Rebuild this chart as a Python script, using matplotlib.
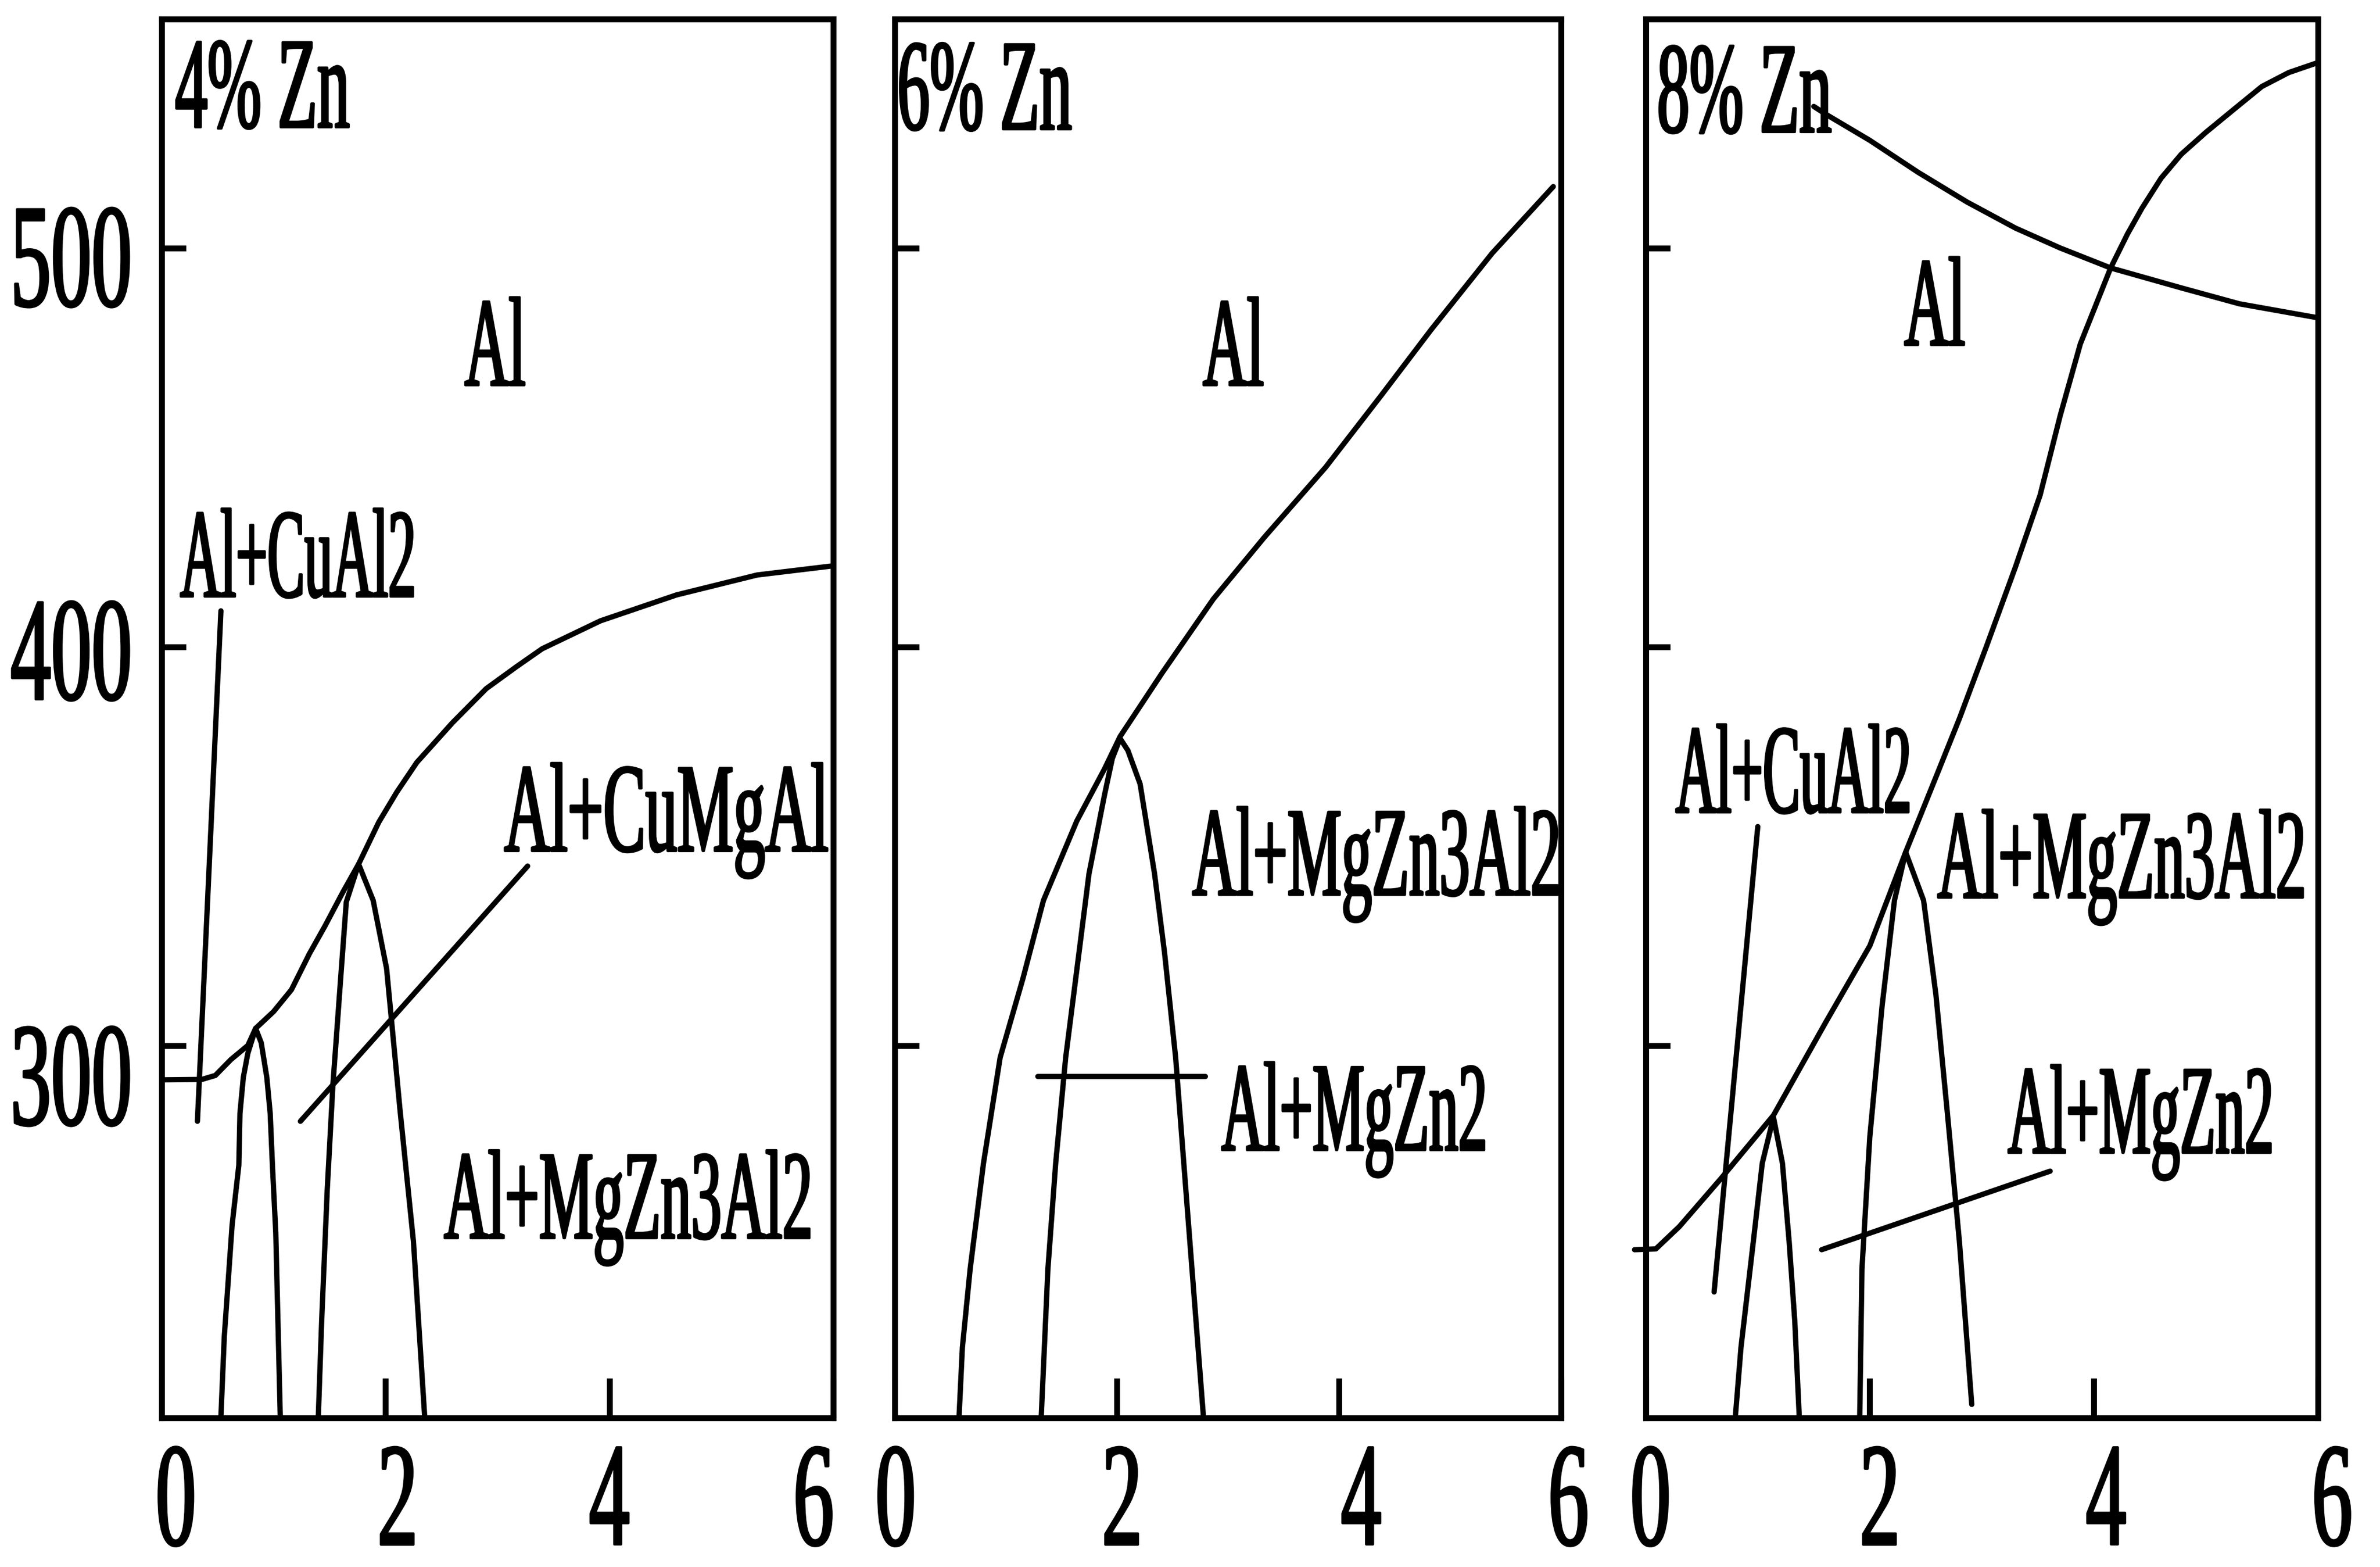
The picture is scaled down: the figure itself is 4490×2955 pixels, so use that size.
import numpy as np
import matplotlib
matplotlib.use('Agg')
from matplotlib import pyplot as plt
from matplotlib import patheffects
from matplotlib.transforms import Affine2D, ScaledTranslation

# ---- 4% Zn panel ----
p1_curve_x = [0.00, 0.36, 0.48, 0.62, 0.77, 0.84, 1.00, 1.16, 1.32, 1.46, 1.62, 1.76,
              1.94, 2.10, 2.28, 2.60, 2.90, 3.17, 3.40, 3.92, 4.60, 5.32, 6.00]
p1_curve_y = [291.4, 291.5, 292.5, 296.5, 300.0, 304.3, 308.5, 314.0, 323.0, 330.0, 338.5, 345.5,
              356.0, 363.5, 371.0, 381.0, 389.5, 395.0, 399.5, 406.5, 413.0, 418.0, 420.3]
p1_dome1_x = [0.53, 0.56, 0.63, 0.69, 0.70, 0.73, 0.77, 0.84, 0.89, 0.94, 0.97, 0.99, 1.02, 1.06]
p1_dome1_y = [207, 227, 255, 270, 283, 292, 298, 304.3, 300.7, 292, 283, 270, 253, 207]
p1_dome2_x = [1.40, 1.43, 1.48, 1.53, 1.60, 1.65, 1.76, 1.89, 2.01, 2.13, 2.25, 2.35]
p1_dome2_y = [207, 231, 264, 290, 317, 336, 345.5, 336.4, 319.3, 283.8, 250.8, 207]
p1_ptr_cual2_x = [0.53, 0.32]
p1_ptr_cual2_y = [409, 281]
p1_ptr_cumgal_x = [3.27, 1.24]
p1_ptr_cumgal_y = [345, 281]

# ---- 6% Zn panel ----
p2_curve_x = [0.58, 0.61, 0.68, 0.80, 0.95, 1.155, 1.34, 1.64, 1.89, 2.03, 2.41, 2.87,
              3.33, 3.88, 4.38, 4.83, 5.38, 5.93]
p2_curve_y = [207, 224.3, 244, 270.5, 297, 316.8, 336.4, 356.3, 369.4, 377.5, 393.5, 412.0,
              427.5, 445.0, 463, 479.5, 498.7, 515.4]
p2_dome_x = [1.32, 1.38, 1.45, 1.54, 1.66, 1.75, 1.89, 1.96, 2.03, 2.10, 2.21, 2.34, 2.43,
             2.53, 2.64, 2.78]
p2_dome_y = [207, 244, 270.5, 297, 323.3, 343.1, 362.9, 372, 377, 374, 365.6, 343.1, 323.3,
             297, 257.3, 207]
p2_ptr_mgzn2_x = [1.29, 2.80]
p2_ptr_mgzn2_y = [292.3, 292.3]

# ---- 8% Zn panel ----
p3_solvus_x = [1.50, 1.61, 2.00, 2.43, 2.87, 3.30, 3.70, 4.15, 4.78, 5.30, 6.00]
p3_solvus_y = [535.5, 533.5, 527, 519, 511.5, 505, 500, 495, 490, 486, 482.5]
p3_curve_x = [-0.10, 0.09, 0.30, 0.67, 1.14, 1.61, 2.00, 2.32, 2.60, 2.80, 3.04, 3.30, 3.52,
              3.70, 3.88, 4.15, 4.30, 4.43, 4.60, 4.78, 5.00, 5.26, 5.50, 5.74, 6.00]
p3_curve_y = [248.8, 249.0, 254.6, 266.6, 282.5, 306, 325, 348.5, 368, 382, 400, 420, 438,
              458, 476, 495, 503.5, 510, 517.5, 523.5, 529, 535, 540.5, 544, 546.5]
p3_dome1_x = [0.80, 0.85, 0.96, 1.04, 1.14, 1.22, 1.28, 1.33, 1.37]
p3_dome1_y = [207, 224.3, 250.8, 270.5, 282, 270.5, 250.8, 231, 207]
p3_dome2_x = [1.91, 1.93, 2.00, 2.11, 2.22, 2.32, 2.48, 2.59, 2.69, 2.80, 2.91]
p3_dome2_y = [207, 244, 277.1, 310, 336.4, 348.5, 336.4, 312.8, 283.8, 250.8, 210]
p3_ptr_cual2_x = [1.00, 0.61]
p3_ptr_cual2_y = [354.9, 238.2]
p3_ptr_mgzn2_x = [3.61, 1.57]
p3_ptr_mgzn2_y = [268.5, 248.8]

x_ticks = [0, 2, 4, 6]
x_labels = ['0', '2', '4', '6']
y_ticks = [300, 400, 500]
y_labels = ['300', '400', '500']


class Tall(patheffects.AbstractPathEffect):
    """Stretch glyphs vertically (and thicken them) to look like the
    condensed, heavy face of the scanned figure."""
    def __init__(self, sy, anchor='baseline', lw=3.2):
        super().__init__()
        self.sy = sy
        self.anchor = anchor
        self.lw = lw

    def draw_path(self, renderer, gc, tpath, affine, rgbFace=None):
        ext = tpath.get_extents()
        if self.anchor == 'top':
            y0 = ext.y1
        elif self.anchor == 'center':
            y0 = (ext.y0 + ext.y1) / 2
        else:
            y0 = 0
        st = Affine2D().translate(0, -y0).scale(1, self.sy).translate(0, y0)
        gc0 = renderer.new_gc()
        gc0.copy_properties(gc)
        gc0.set_linewidth(self.lw)
        gc0.set_foreground(rgbFace)
        gc0.set_joinstyle('round')
        renderer.draw_path(gc0, tpath, st + affine, rgbFace)
        gc0.restore()


def label(ax, x, y, s, size, squeeze):
    # squeeze < 1: how narrow the face is compared with a normal serif face
    ax.text(x, y, s, fontsize=size * squeeze, ha='center', va='baseline',
            path_effects=[Tall(1 / squeeze)])


plt.rcParams['font.family'] = ['Liberation Serif', 'DejaVu Serif']

fig = plt.figure(figsize=(44.9, 29.55), dpi=100)
boxes = [[0.0679, 0.0951, 0.2822, 0.8927],
         [0.3759, 0.0951, 0.2800, 0.8927],
         [0.6915, 0.0951, 0.2824, 0.8927]]
axes = [fig.add_axes(b) for b in boxes]

# small shifts (px) of tick labels as placed in the original
x_label_shift = [[27, 23, 0, -37], [2, 10, 42, 14], [9, 19, 23, 27]]
y_label_shift = [-55, -5, -15]

LW = 7.2
line_kw = dict(color='k', lw=LW, solid_capstyle='round', solid_joinstyle='round')
TICK_SQ = 0.55

for i, ax in enumerate(axes):
    ax.set_xlim(0, 6)
    ax.set_ylim(206.6, 557.4)
    for s in ax.spines.values():
        s.set_linewidth(8)
    ax.set_xticks(x_ticks, x_labels)
    ax.set_yticks(y_ticks, y_labels)
    ax.tick_params(axis='x', direction='in', length=54, width=8, pad=36,
                   labelsize=200 * TICK_SQ, top=False)
    ax.tick_params(axis='y', direction='in', length=33, width=8, pad=40,
                   labelsize=200 * TICK_SQ, right=False, labelleft=(i == 0))
    for lab, dx in zip(ax.get_xticklabels(), x_label_shift[i]):
        lab.set_path_effects([Tall(1 / TICK_SQ, 'top')])
        lab.set_transform(lab.get_transform() + ScaledTranslation(dx / 100, 0, fig.dpi_scale_trans))
    for lab, dy in zip(ax.get_yticklabels(), y_label_shift):
        lab.set_path_effects([Tall(1 / TICK_SQ, 'center')])
        lab.set_transform(lab.get_transform() + ScaledTranslation(0, dy / 100, fig.dpi_scale_trans))

# 4% Zn
ax = axes[0]
ax.plot(p1_curve_x, p1_curve_y, **line_kw)
ax.plot(p1_dome1_x, p1_dome1_y, **line_kw)
ax.plot(p1_dome2_x, p1_dome2_y, **line_kw)
ax.plot(p1_ptr_cual2_x, p1_ptr_cual2_y, **line_kw)
ax.plot(p1_ptr_cumgal_x, p1_ptr_cumgal_y, **line_kw)
label(ax, 0.90, 530.3, '4% Zn', 176, 0.5)
label(ax, 2.98, 465.6, 'Al', 172, 0.48)
label(ax, 1.22, 412.6, 'Al+CuAl2', 172, 0.44)
label(ax, 4.51, 348.8, 'Al+CuMgAl', 172, 0.5)
label(ax, 4.17, 251.7, 'Al+MgZn3Al2', 172, 0.48)

# 6% Zn
ax = axes[1]
ax.plot(p2_curve_x, p2_curve_y, **line_kw)
ax.plot(p2_dome_x, p2_dome_y, **line_kw)
ax.plot(p2_ptr_mgzn2_x, p2_ptr_mgzn2_y, **line_kw)
label(ax, 0.81, 529.8, '6% Zn', 176, 0.5)
label(ax, 3.05, 465.6, 'Al', 172, 0.48)
label(ax, 4.34, 337.8, 'Al+MgZn3Al2', 172, 0.48)
label(ax, 4.14, 273.8, 'Al+MgZn2', 172, 0.46)

# 8% Zn
ax = axes[2]
ax.plot(p3_solvus_x, p3_solvus_y, **line_kw)
ax.plot(p3_curve_x, p3_curve_y, clip_on=False, **line_kw)
ax.plot(p3_dome1_x, p3_dome1_y, **line_kw)
ax.plot(p3_dome2_x, p3_dome2_y, **line_kw)
ax.plot(p3_ptr_cual2_x, p3_ptr_cual2_y, **line_kw)
ax.plot(p3_ptr_mgzn2_x, p3_ptr_mgzn2_y, **line_kw)
label(ax, 0.88, 529.1, '8% Zn', 176, 0.5)
label(ax, 2.58, 475.7, 'Al', 172, 0.48)
label(ax, 1.32, 358.5, 'Al+CuAl2', 172, 0.44)
label(ax, 4.25, 337.1, 'Al+MgZn3Al2', 172, 0.48)
label(ax, 4.42, 273.1, 'Al+MgZn2', 172, 0.46)

fig.savefig('out.png', dpi=100)
